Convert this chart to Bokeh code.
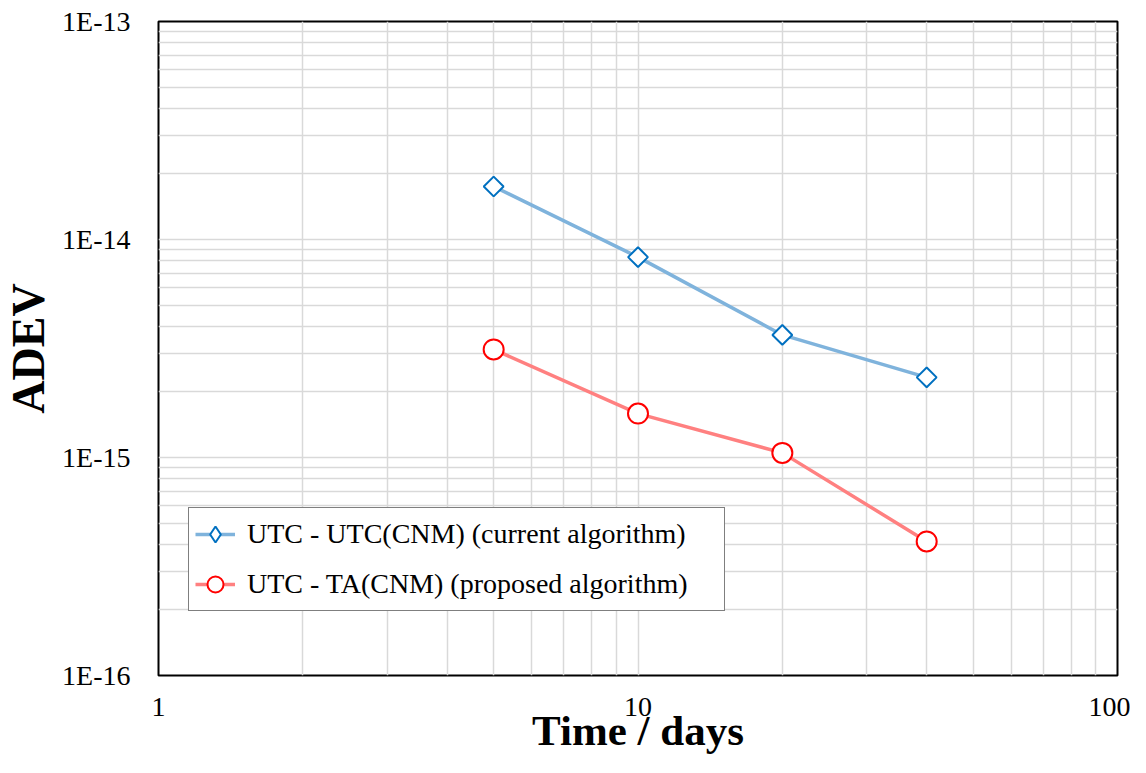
import numpy as np
from bokeh.plotting import figure
from bokeh.models import FixedTicker, CustomJSTickFormatter, Legend, LegendItem, Range1d
from bokeh.embed import file_html
from bokeh.resources import INLINE

# Data
tau_days = [5, 10, 20, 40]
adev_current = [1.75e-14, 8.3e-15, 3.65e-15, 2.33e-15]
adev_proposed = [3.13e-15, 1.59e-15, 1.05e-15, 4.12e-16]
label_current = "UTC - UTC(CNM) (current algorithm)"
label_proposed = "UTC - TA(CNM) (proposed algorithm)"
x_title = "Time / days"
y_title = "ADEV"
x_major = [1, 10, 100]
y_major = [1e-16, 1e-15, 1e-14, 1e-13]

x_minor = [k * 10.0 ** e for e in (0, 1) for k in range(2, 10)]
y_minor = [k * 10.0 ** e for e in (-16, -15, -14) for k in range(2, 10)]

FONT = "Liberation Serif"
GRID = "#d9d9d9"
BLUE_LINE, BLUE_MARK = "#7fb3dc", "#0070c0"
RED_LINE, RED_MARK = "#ff8080", "#ff0000"

p = figure(width=1130, height=757, x_axis_type="log", y_axis_type="log",
           x_range=Range1d(x_major[0], x_major[-1]), y_range=Range1d(y_major[0], y_major[-1]),
           output_backend="svg", toolbar_location=None,
           min_border_left=158, min_border_right=13, min_border_top=21, min_border_bottom=82)
p.background_fill_color = "white"
p.border_fill_color = "white"
p.outline_line_color = "black"
p.outline_line_width = 2

p.xaxis.ticker = FixedTicker(ticks=x_major, minor_ticks=x_minor)
p.yaxis.ticker = FixedTicker(ticks=y_major, minor_ticks=y_minor)
p.xaxis.formatter = CustomJSTickFormatter(code="return String(Math.round(tick));")
p.yaxis.formatter = CustomJSTickFormatter(code="return '1E' + Math.round(Math.log10(tick));")

for ax in (p.xaxis[0], p.yaxis[0]):
    ax.axis_line_color = None
    ax.major_tick_line_color = None
    ax.minor_tick_line_color = None
    ax.major_label_text_font = FONT
    ax.major_label_text_font_size = "28px"
    ax.major_label_text_color = "black"
    ax.axis_label_text_font = FONT
    ax.axis_label_text_font_style = "bold"
    ax.axis_label_text_color = "black"

p.xaxis.axis_label = x_title
p.xaxis.axis_label_text_font_size = "43px"
p.xaxis.major_label_standoff = 16
p.xaxis.axis_label_standoff = -12
p.yaxis.axis_label = y_title
p.yaxis.axis_label_text_font_size = "46px"
p.yaxis.major_label_standoff = 22
p.yaxis.axis_label_standoff = 5

for g in (p.xgrid, p.ygrid):
    g.grid_line_color = GRID
    g.grid_line_width = 1.5
    g.minor_grid_line_color = GRID
    g.minor_grid_line_width = 1.5

l1 = p.line(tau_days, adev_current, line_color=BLUE_LINE, line_width=3.5)
# narrow diamond used as the legend key; fully hidden under the plotted markers
k1 = p.scatter(tau_days, adev_current, marker="diamond", size=16,
               fill_color="white", line_color=BLUE_MARK, line_width=2)
m1 = p.scatter(tau_days, adev_current, marker="square", angle=np.pi / 4, size=14,
               fill_color="white", line_color=BLUE_MARK, line_width=2)
l2 = p.line(tau_days, adev_proposed, line_color=RED_LINE, line_width=3.5)
m2 = p.scatter(tau_days, adev_proposed, marker="circle", size=20,
               fill_color="white", line_color=RED_MARK, line_width=2)

legend = Legend(items=[LegendItem(label=label_current, renderers=[l1, k1]),
                       LegendItem(label=label_proposed, renderers=[l2, m2])],
                location=(30, 64), orientation="vertical",
                label_text_font=FONT, label_text_font_size="28px",
                label_text_color="black",
                glyph_width=40, glyph_height=40, label_height=40, label_width=471,
                label_standoff=12, spacing=10, padding=6, margin=0,
                border_line_color="black", border_line_width=1.5,
                background_fill_color="white", background_fill_alpha=1.0)
p.add_layout(legend)

open("out.html", "w").write(file_html(p, INLINE))
